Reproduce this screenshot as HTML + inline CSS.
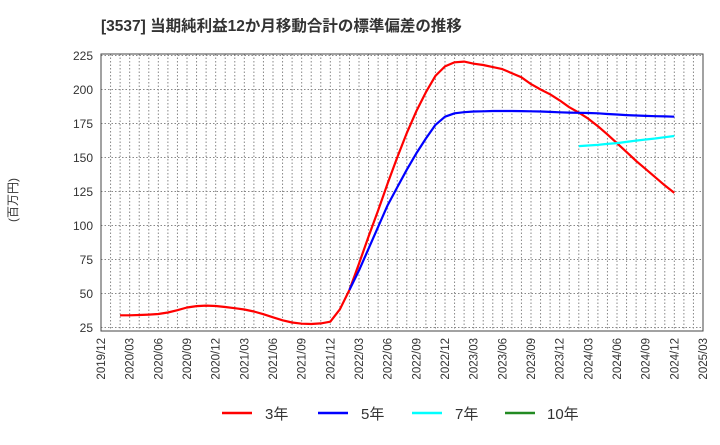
<!DOCTYPE html>
<html><head><meta charset="utf-8"><style>
body{margin:0;background:#fff;font-family:"Liberation Sans","Noto Sans CJK JP",sans-serif}
svg text{font-family:"Liberation Sans","Noto Sans CJK JP",sans-serif}
</style></head><body>
<svg id="c" width="720" height="440" viewBox="0 0 720 440">
<text x="101" y="31" font-size="15.5" font-weight="bold" fill="#333">[3537]  当期純利益12か月移動合計の標準偏差の推移</text>
<text transform="translate(17,200) rotate(-90)" text-anchor="middle" font-size="12" fill="#333">(百万円)</text>
<g id="grid"></g><g id="axes"></g><g id="series"></g>
<g>
<line x1="222" y1="413" x2="252" y2="413" stroke="#ff0000" stroke-width="2.5"/><text x="265" y="419" font-size="15" fill="#333">3年</text>
<line x1="318" y1="413" x2="348" y2="413" stroke="#0000ff" stroke-width="2.5"/><text x="361" y="419" font-size="15" fill="#333">5年</text>
<line x1="412" y1="413" x2="442" y2="413" stroke="#00ffff" stroke-width="2.5"/><text x="455" y="419" font-size="15" fill="#333">7年</text>
<line x1="505" y1="413" x2="535" y2="413" stroke="#228b22" stroke-width="2.5"/><text x="547" y="419" font-size="15" fill="#333">10年</text>
</g>
</svg>
<script>
const yTicks=[25,50,75,100,125,150,175,200,225];
const xTickLabels=["2019/12","2020/03","2020/06","2020/09","2020/12","2021/03","2021/06","2021/09","2021/12","2022/03","2022/06","2022/09","2022/12","2023/03","2023/06","2023/09","2023/12","2024/03","2024/06","2024/09","2024/12","2025/03"];
const red3Start=2;
const red3=[34,34,34.2,34.5,34.9,36,37.7,39.7,40.7,41.1,40.8,40.1,39.2,38.2,36.8,34.8,32.5,30.3,28.7,27.8,27.6,28,29.3,38.4,52.6,72,92,111,131,150,168,184,198,210,217,220,220.5,219,218,216.5,215,212,209,204,200,196.5,192,187,183,178.5,173,167,160.5,154,147.5,141.5,135.5,129.5,124];
const blue5Start=26;
const blue5=[52.6,67,83,99,115,128,141,153,164,174,180,182.5,183.3,183.8,184,184.2,184.2,184.2,184.1,184,183.8,183.5,183.2,183,182.9,182.7,182.5,182,181.6,181.2,180.9,180.6,180.4,180.2,180];
const cyan7Start=50;
const cyan7=[158.4,158.8,159.3,160,160.6,161.5,162.4,163.2,164,164.9,165.8];
const L=101,R=703,T=54,B=331;
const X=m=>L+m*(R-L)/63;
const Y=v=>327.5-(v-25)*34/25;
const NS="http://www.w3.org/2000/svg";
function mk(p,t,a){const e=document.createElementNS(NS,t);for(const k in a)e.setAttribute(k,a[k]);p.appendChild(e);return e;}
const grid=document.getElementById('grid'),axes=document.getElementById('axes'),ser=document.getElementById('series');
for(let m=1;m<63;m++){const l=mk(grid,'line',{x1:X(m),x2:X(m),y1:T,y2:B,stroke:'#888','stroke-dasharray':'1.5,2','stroke-width':1});

}
yTicks.forEach(v=>{const l=mk(grid,'line',{x1:L,x2:R,y1:Y(v),y2:Y(v),stroke:'#888','stroke-dasharray':'1.5,2','stroke-width':1});


const t=mk(axes,'text',{x:L-8,y:Y(v)+4.5,'text-anchor':'end','font-size':12,fill:'#333'});t.textContent=v;

});
const fr=mk(axes,'rect',{x:L,y:T,width:R-L,height:B-T,fill:'none',stroke:'#444','stroke-width':1});


xTickLabels.forEach((s,i)=>{const x=X(i*3);const t=mk(axes,'text',{transform:`translate(${x+4},${B+7}) rotate(-90)`,'text-anchor':'end','font-size':11.5,fill:'#333'});t.textContent=s;

});
function line(arr,start,color,name){const pts=arr.map((v,i)=>X(start+i).toFixed(1)+','+Y(v).toFixed(1)).join(' ');
const p=mk(ser,'polyline',{points:pts,fill:'none',stroke:color,'stroke-width':2.2,'stroke-linejoin':'round'});

}
line(red3,red3Start,'#ff0000','series-3y');
line(blue5,blue5Start,'#0000ff','series-5y');
line(cyan7,cyan7Start,'#00ffff','series-7y');
</script>
</body></html>
